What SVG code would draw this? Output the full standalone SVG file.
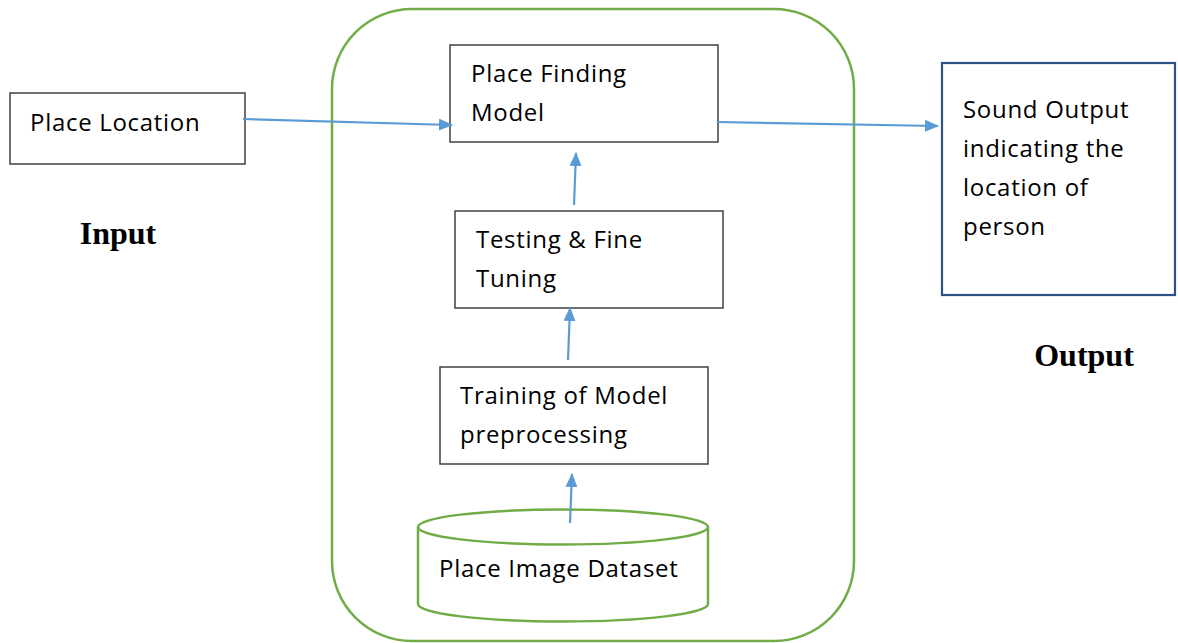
<svg xmlns="http://www.w3.org/2000/svg" width="1178" height="643" viewBox="0 0 1178 643">
<defs>
<marker id="ah" markerWidth="14" markerHeight="12" refX="13" refY="6" orient="auto" markerUnits="userSpaceOnUse">
<path d="M0,0 L14,6 L0,12 Z" fill="#5B9BD5"/>
</marker>
<style>
.box{fill:#fff;stroke:#404040;stroke-width:1.5}
.t{font-family:"Open Sans","Noto Sans",sans-serif;font-size:24px;letter-spacing:0.7px;fill:#000}
.b{font-family:"Liberation Serif",serif;font-size:32px;font-weight:bold;fill:#000}
.c{stroke:#5B9BD5;stroke-width:2.2;fill:none;marker-end:url(#ah)}
.g{fill:none;stroke:#70AD47;stroke-width:2.5}
</style>
</defs>
<rect width="1178" height="643" fill="#fff"/>
<g id="container"><rect class="g" x="332" y="9" width="522" height="632" rx="80" ry="80"/></g>
<g id="place-location"><rect class="box" x="10" y="93" width="235" height="71"/><text class="t" x="30" y="131">Place Location</text></g>
<g id="input-label"><text class="b" x="118" y="244" text-anchor="middle">Input</text></g>
<g id="place-finding"><rect class="box" x="450" y="45" width="268" height="97"/><text class="t" x="471" y="82">Place Finding</text><text class="t" x="471" y="121">Model</text></g>
<g id="testing"><rect class="box" x="455" y="211" width="268" height="97"/><text class="t" x="476" y="248">Testing &amp; Fine</text><text class="t" x="476" y="287">Tuning</text></g>
<g id="training"><rect class="box" x="440" y="367" width="268" height="97"/><text class="t" x="460" y="404">Training of Model</text><text class="t" x="460" y="443">preprocessing</text></g>
<g id="dataset"><path class="g" d="M418,527 L418,604 A145,17.5 0 0 0 708,604 L708,527" fill="#fff"/><ellipse class="g" cx="563" cy="527" rx="145" ry="17.5" fill="#fff"/><text class="t" x="439" y="577">Place Image Dataset</text></g>
<g id="sound-output"><rect x="942" y="63" width="233" height="232" fill="#fff" stroke="#2E5283" stroke-width="2.2"/><text class="t" x="963" y="118">Sound Output</text><text class="t" x="963" y="157">indicating the</text><text class="t" x="963" y="196">location of</text><text class="t" x="963" y="235">person</text></g>
<g id="output-label"><text class="b" x="1084" y="366" text-anchor="middle">Output</text></g>
<g id="connectors">
<line class="c" x1="243" y1="119" x2="452" y2="125"/>
<line class="c" x1="718" y1="122" x2="938" y2="126"/>
<line class="c" x1="574" y1="205" x2="576" y2="153"/>
<line class="c" x1="568" y1="360" x2="570" y2="308"/>
<line class="c" x1="570" y1="523" x2="572" y2="474"/>
</g>
</svg>
